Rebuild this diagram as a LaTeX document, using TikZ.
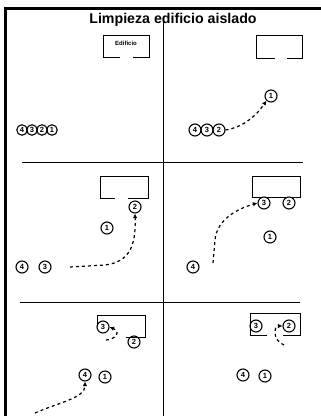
\documentclass[tikz,border=0pt]{standalone}
\usepackage{fontspec}
\setmainfont{Liberation Sans}
\usetikzlibrary{arrows.meta}
\begin{document}
\begin{tikzpicture}[x=1pt,y=-1pt,
  num/.style={circle,draw,line width=1.1pt,minimum size=12pt,inner sep=0pt,
    font=\fontsize{7.5}{7.5}\selectfont\bfseries},
  numsm/.style={num,minimum size=10.5pt},
  bld/.style={line width=1pt},
  divl/.style={line width=1pt},
  frame/.style={line width=3.2pt},
  mv/.style={line width=1.2pt,dash pattern=on 3pt off 3pt,
    -{Latex[length=4.5pt,width=4.5pt]}}]
\useasboundingbox (0,0) rectangle (321,416);
% frame
\draw[frame] (4,8.5) -- (321,8.5);
\draw[frame] (5.5,7) -- (5.5,416);
% dividers
\draw[divl] (163,17) -- (163,416);
\draw[divl] (22,162) -- (303,162);
\draw[divl] (20,302) -- (300,302);
% title
\node[font=\fontsize{14.2}{15}\selectfont\bfseries] (title) at (173,20) {Limpieza edificio aislado};

% ---------- panel 1 ----------
\draw[bld] (120,57) -- (103,57) -- (103,35) -- (149,35) -- (149,57) -- (133,57);
\node[font=\fontsize{6}{6}\selectfont\bfseries] (edif) at (126,43) {Edificio};
\node[numsm] (a4) at (22,130) {4};
\node[numsm] (a3) at (32,130) {3};
\node[numsm] (a2) at (42,130) {2};
\node[numsm] (a1) at (52,130) {1};

% ---------- panel 2 ----------
\draw[bld] (275,58) -- (256,58) -- (256,35) -- (302,35) -- (302,58) -- (287,58);
\node[num] (b4) at (195,130) {4};
\node[num] (b3) at (207,130) {3};
\node[num] (b2) at (219,130) {2};
\node[num] (b1) at (271,96) {1};
\draw[mv] (b2.east) .. controls (240,128) and (255,118) .. (b1.south west);

% ---------- panel 3 ----------
\draw[bld] (115,198) -- (100,198) -- (100,176) -- (148,176) -- (148,198) -- (128,198);
\node[num] (c2) at (135,207) {2};
\node[num] (c1) at (107,228) {1};
\node[num] (c4) at (22,267) {4};
\node[num] (c3) at (45,267) {3};
\coordinate (cs) at (70,267);
\draw[mv] (cs) -- (105,265) .. controls (130,262) and (136,245) .. (c2.south);

% ---------- panel 4 ----------
\draw[bld] (252,197) -- (252,176) -- (300,176) -- (300,197) -- cycle;
\node[num,fill=white] (d3) at (264,203) {3};
\node[num,fill=white] (d2) at (289,203) {2};
\node[num] (d1) at (270,237) {1};
\node[num] (d4) at (193,267) {4};
\coordinate (ds) at (213,263);
\draw[mv] (ds) -- (215,240) .. controls (217,218) and (240,208) .. (d3.west);

% ---------- panel 5 ----------
\draw[bld] (97,326) -- (97,315) -- (145,315) -- (145,337) -- (126,337);
\node[num] (e3) at (103,327) {3};
\node[num] (e2) at (134,342) {2};
\node[num] (e4) at (85,375) {4};
\node[num] (e1) at (105,377) {1};
\coordinate (es) at (106,340);
\draw[mv] (es) .. controls (114,340) and (122,332) .. (e3.east);
\coordinate (fs) at (35,413);
\draw[mv] (fs) .. controls (60,402) and (85,398) .. (e4.south);

% ---------- panel 6 ----------
\draw[bld] (267,335) -- (250,335) -- (250,313) -- (300,313) -- (300,335) -- (283,335);
\node[num] (f3) at (256,326) {3};
\node[num] (f2) at (289,326) {2};
\node[num] (f4) at (243,375) {4};
\node[num] (f1) at (265,376) {1};
\coordinate (gs) at (284,345);
\draw[mv] (gs) .. controls (272,340) and (274,326) .. (f2.west);
\end{tikzpicture}
\end{document}
